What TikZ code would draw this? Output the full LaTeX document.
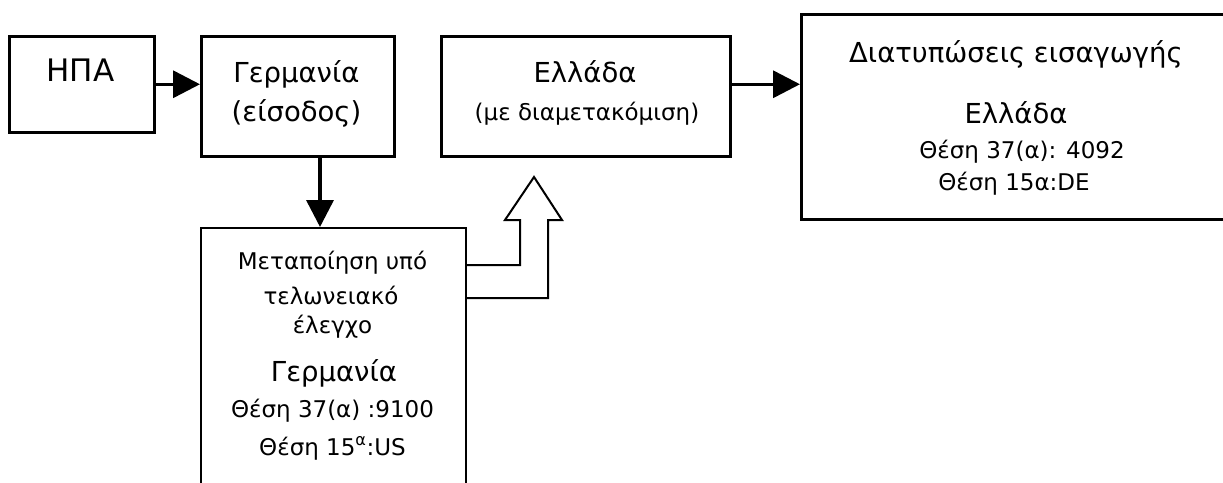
\documentclass[tikz,border=0pt]{standalone}
\usepackage{fontspec}
\setmainfont{DejaVu Sans}
\usetikzlibrary{arrows.meta}
\begin{document}
\begin{tikzpicture}[x=1pt,y=-1pt,
  box/.style={draw, line width=2.5pt, rectangle, anchor=north west, inner sep=0pt},
  big/.style={font=\fontsize{27.5}{32}\selectfont, inner sep=0pt, anchor=base},
  small/.style={font=\fontsize{23}{27}\selectfont, inner sep=0pt, anchor=base},
  conn/.style={line width=3.5pt, -{Triangle[length=27pt,width=27pt]}},
  hollow/.style={line width=2pt, line join=miter}]
\useasboundingbox (0,0) rectangle (1223,482);
\clip (0,0) rectangle (1223,482);
\fill[white] (0,0) rectangle (1223,482);
% boxes
\node[box, minimum width=145pt, minimum height=96pt] (hpa) at (8,35) {};
\node[box, minimum width=193pt, minimum height=120pt] (germ) at (200,35) {};
\node[box, minimum width=289pt, minimum height=120pt] (ell) at (440,35) {};
\node[box, minimum width=500pt, minimum height=205pt] (rb) at (800,13) {};
\node[box, line width=2pt, minimum width=265pt, minimum height=320pt] (bot) at (200,227) {};
% texts
\node[big, font=\fontsize{31}{34}\selectfont] (t1) at (80.5,81) {ΗΠΑ};
\node[big] (t2) at (296.5,82) {Γερμανία};
\node[big] (t3) at (296.5,121) {(είσοδος)};
\node[big] (t4) at (585,82) {Ελλάδα};
\node[small] (t5) at (587,120) {(με διαμετακόμιση)};
\node[big] (t6) at (1016,62) {Διατυπώσεις εισαγωγής};
\node[big] (t7) at (1016,123) {Ελλάδα};
\node[small] (t8) at (1022,158) {Θέση 37(α): 4092};
\node[small] (t9) at (1014,190) {Θέση 15α:DE};
\node[small] (b1) at (332.5,269) {Μεταποίηση υπό};
\node[small] (b2) at (331,304) {τελωνειακό};
\node[small] (b3) at (332.5,333) {έλεγχο};
\node[big] (b4) at (334,381) {Γερμανία};
\node[small] (b5) at (332.5,417) {Θέση 37(α) :9100};
\node[small] (b6) at (332.5,455) {Θέση 15\textsuperscript{α}:US};
% connectors
\coordinate (dx) at (320,0);
\draw[conn] (hpa.east) -- (hpa.east -| germ.west);
\draw[conn] (germ.south -| dx) -- (bot.north -| dx);
\draw[conn] (ell.east |- hpa.east) -- (rb.west |- hpa.east);
% hollow bent arrow
\draw[hollow] (bot.east |- 0,265) -- (520,265) -- (520,220) -- (505,220)
  -- (534,177) -- (562,220) -- (548,220) -- (548,298) -- (bot.east |- 0,298);
\end{tikzpicture}
\end{document}
